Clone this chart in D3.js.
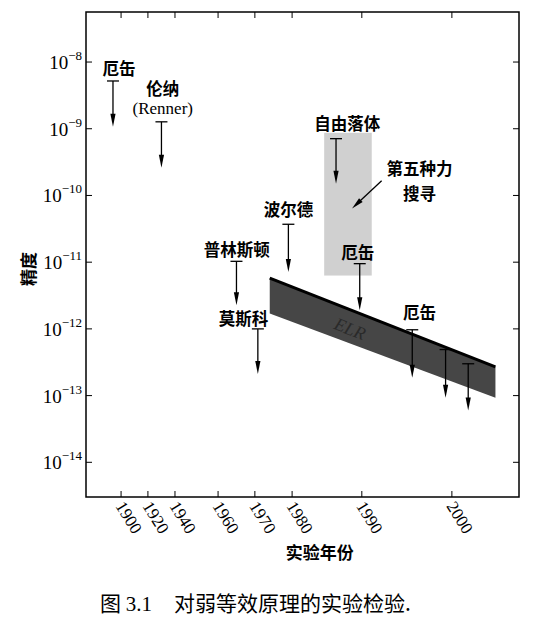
<!DOCTYPE html>
<html>
<head>
<meta charset="utf-8">
<script src="https://cdn.jsdelivr.net/npm/d3@7"></script>
<style>
  body { margin: 0; background: #fff; }
  svg { display: block; }
</style>
</head>
<body>
<div id="chart"></div>
<script>
// tick labels
let yearTicks = [1900, 1920, 1940, 1960, 1970, 1980, 1990, 2000];
let decadeTicks = [-8, -9, -10, -11, -12, -13, -14];

// upper-limit experiments (cap = bound, tip = arrow end)
let expYears = [1894, 1930, 1965, 1979, 1986.3, 1989.7, 1970.8, 1995.6, 1999.3, 2001.8];
let capValues = [5.2e-9, 1.27e-9, 1.03e-11, 3.7e-11, 7.1e-10, 9.5e-12, 1.0e-12, 9.7e-13, 4.9e-13, 3.0e-13];
let tipValues = [1.07e-9, 2.6e-10, 2.26e-12, 7.1e-12, 1.5e-10, 1.9e-12, 2.1e-13, 1.85e-13, 9.3e-14, 6.0e-14];

// text labels, anchored in data units ("\n" = second line)
let labelText = ["厄缶", "伦纳", "(Renner)", "普林斯顿", "波尔德", "自由落体", "第五种力\n搜寻", "厄缶", "莫斯科", "厄缶"];
let labelYears = [1898.5, 1931, 1931, 1965.1, 1979, 1987.9, 1996.4, 1989.4, 1966.9, 1996.4];
let labelValues = [8.1e-9, 4.1e-9, 2.07e-9, 1.6e-11, 6.3e-11, 1.23e-9, 2.55e-10, 1.4e-11, 1.48e-12, 1.78e-12];

// fifth-force search region
let fifthYears = [1984.6, 1991.1];
let fifthValues = [8.7e-10, 6.3e-12];
let fifthPointerYears = [1992.2, 1988.6];
let fifthPointerValues = [1.66e-10, 6.4e-11];

// ELR band
let bandYears = [1974, 2004.8];
let bandTop = [5.75e-12, 2.7e-13];
let bandBottom = [1.7e-12, 9.3e-14];

let margin = {top: 12, right: 36, bottom: 128, left: 86};
let width = 555 - margin.left - margin.right;
let height = 625 - margin.top - margin.bottom;

let serif = "'Liberation Serif', 'DejaVu Serif', serif";
let cjk = "'Noto Sans CJK SC', sans-serif";

let svg = d3.select("#chart")
  .append("svg")
  .attr("width", 555)
  .attr("height", 625);

let g = svg.append("g")
  .attr("transform", "translate(" + margin.left + "," + margin.top + ")");

// the time axis of the original is stretched piece by piece
let x = d3.scaleLinear()
  .domain([1874, 1900, 1920, 1940, 1960, 1970, 1980, 1990, 2000, 2007.4])
  .range([0, 0.081, 0.143, 0.2055, 0.305, 0.39, 0.476, 0.637, 0.845, 1].map(function(f) { return f * width; }));

let y = d3.scaleLog()
  .domain([Math.pow(10, -14.52), Math.pow(10, -7.25)])
  .range([height, 0]);

// fifth force shaded region
g.append("rect")
  .attr("x", x(fifthYears[0]))
  .attr("y", y(fifthValues[0]))
  .attr("width", x(fifthYears[1]) - x(fifthYears[0]))
  .attr("height", y(fifthValues[1]) - y(fifthValues[0]))
  .attr("fill", "#d0d0d0");

// ELR band
let bandPts = bandYears.map(function(d, i) { return {year: d, top: bandTop[i], bottom: bandBottom[i]}; });
g.append("path")
  .datum(bandPts)
  .attr("d", d3.area()
    .x(function(d) { return x(d.year); })
    .y0(function(d) { return y(d.bottom); })
    .y1(function(d) { return y(d.top); }))
  .attr("fill", "#464646");
g.append("path")
  .datum(bandPts)
  .attr("d", d3.line()
    .x(function(d) { return x(d.year); })
    .y(function(d) { return y(d.top); }))
  .attr("stroke", "#000")
  .attr("stroke-width", 3)
  .attr("fill", "none");

let angle = Math.atan2(y(bandTop[1]) - y(bandTop[0]), x(bandYears[1]) - x(bandYears[0])) * 180 / Math.PI;
g.append("text")
  .attr("transform", "translate(" + x(1988.3) + "," + y(1.0e-12) + ") rotate(" + angle + ")")
  .attr("text-anchor", "middle")
  .attr("dominant-baseline", "central")
  .attr("font-family", serif)
  .attr("font-style", "italic")
  .attr("font-size", 18)
  .attr("fill", "#2a2a2a")
  .text("ELR");

// upper limit arrows
let arrows = g.append("g").selectAll("g")
  .data(expYears)
  .enter().append("g");

arrows.append("line")
  .attr("x1", function(d) { return x(d); })
  .attr("x2", function(d) { return x(d); })
  .attr("y1", function(d, i) { return y(capValues[i]); })
  .attr("y2", function(d, i) { return y(tipValues[i]) - 8; })
  .attr("stroke", "#000")
  .attr("stroke-width", 1.3);

arrows.append("line")
  .attr("x1", function(d) { return x(d) - 6; })
  .attr("x2", function(d) { return x(d) + 6; })
  .attr("y1", function(d, i) { return y(capValues[i]); })
  .attr("y2", function(d, i) { return y(capValues[i]); })
  .attr("stroke", "#000")
  .attr("stroke-width", 1.3);

arrows.append("path")
  .attr("d", function(d, i) {
    let px = x(d), py = y(tipValues[i]);
    return "M" + (px - 2.6) + "," + (py - 13) + "L" + (px + 2.6) + "," + (py - 13) + "L" + px + "," + py + "Z";
  })
  .attr("fill", "#000");

// pointer to fifth force region
let p0 = [x(fifthPointerYears[0]), y(fifthPointerValues[0])];
let p1 = [x(fifthPointerYears[1]), y(fifthPointerValues[1])];
let ang = Math.atan2(p1[1] - p0[1], p1[0] - p0[0]);
g.append("line")
  .attr("x1", p0[0]).attr("y1", p0[1])
  .attr("x2", p1[0] - 9 * Math.cos(ang)).attr("y2", p1[1] - 9 * Math.sin(ang))
  .attr("stroke", "#000")
  .attr("stroke-width", 1.3);
g.append("path")
  .attr("d", "M0,0L-12,-2.6L-12,2.6Z")
  .attr("transform", "translate(" + p1[0] + "," + p1[1] + ") rotate(" + ang * 180 / Math.PI + ")")
  .attr("fill", "#000");

// labels (multi-line ones become tspans in one text)
let labels = g.append("g").selectAll("text")
  .data(labelText)
  .enter().append("text")
  .attr("y", function(d, i) { return y(labelValues[i]); })
  .attr("text-anchor", "middle")
  .attr("dominant-baseline", "central")
  .attr("font-family", function(d) { return d.charAt(0) === "(" ? serif : cjk; })
  .attr("font-weight", function(d) { return d.charAt(0) === "(" ? "normal" : "bold"; })
  .attr("font-size", function(d) { return d.charAt(0) === "(" ? 17 : 16.5; });

labels.each(function(d, i) {
  let lx = x(labelYears[i]);
  d3.select(this).selectAll("tspan")
    .data(d.split("\n"))
    .enter().append("tspan")
    .attr("x", lx)
    .attr("dy", function(t, j) { return j === 0 ? 0 : 24.5; })
    .text(function(t) { return t; });
});

// frame
g.append("rect")
  .attr("width", width)
  .attr("height", height)
  .attr("fill", "none")
  .attr("stroke", "#000")
  .attr("stroke-width", 1.5);

// inner ticks on all four sides
let tickLen = 6;
g.append("g").selectAll("line")
  .data(yearTicks)
  .enter().append("line")
  .attr("x1", function(d) { return x(d); })
  .attr("x2", function(d) { return x(d); })
  .attr("y1", height)
  .attr("y2", height - tickLen)
  .attr("stroke", "#000");
g.append("g").selectAll("line")
  .data(yearTicks)
  .enter().append("line")
  .attr("x1", function(d) { return x(d); })
  .attr("x2", function(d) { return x(d); })
  .attr("y1", 0)
  .attr("y2", tickLen)
  .attr("stroke", "#000");
g.append("g").selectAll("line")
  .data(decadeTicks)
  .enter().append("line")
  .attr("x1", 0)
  .attr("x2", tickLen)
  .attr("y1", function(d) { return y(Math.pow(10, d)); })
  .attr("y2", function(d) { return y(Math.pow(10, d)); })
  .attr("stroke", "#000");
g.append("g").selectAll("line")
  .data(decadeTicks)
  .enter().append("line")
  .attr("x1", width)
  .attr("x2", width - tickLen)
  .attr("y1", function(d) { return y(Math.pow(10, d)); })
  .attr("y2", function(d) { return y(Math.pow(10, d)); })
  .attr("stroke", "#000");

// y tick labels 10^n
let yLabels = g.append("g").selectAll("text")
  .data(decadeTicks)
  .enter().append("text")
  .attr("x", -4)
  .attr("y", function(d) { return y(Math.pow(10, d)) + 7; })
  .attr("text-anchor", "end")
  .attr("font-family", serif)
  .attr("font-size", 19);
yLabels.append("tspan").text("10");
yLabels.append("tspan")
  .attr("dy", -9)
  .attr("font-size", 13)
  .text(function(d) { return "\u2212" + (-d); });

// x tick labels, rotated
g.append("g").selectAll("text")
  .data(yearTicks)
  .enter().append("text")
  .attr("transform", function(d) { return "translate(" + (x(d) - 6) + "," + (height + 9) + ") rotate(58)"; })
  .attr("text-anchor", "start")
  .attr("font-family", serif)
  .attr("font-size", 17)
  .text(function(d) { return d; });

// axis titles
g.append("text")
  .attr("transform", "translate(" + (-59) + "," + (height * 0.53) + ") rotate(-90)")
  .attr("text-anchor", "middle")
  .attr("dominant-baseline", "central")
  .attr("font-family", cjk)
  .attr("font-weight", "bold")
  .attr("font-size", 17)
  .text("精度");

g.append("text")
  .attr("x", width * 0.54)
  .attr("y", height + 62)
  .attr("text-anchor", "middle")
  .attr("font-family", cjk)
  .attr("font-weight", "bold")
  .attr("font-size", 17)
  .text("实验年份");

// caption
let cap = svg.append("text")
  .attr("x", 100)
  .attr("y", 611)
  .attr("font-size", 21);
cap.append("tspan").attr("font-family", cjk).text("图 ");
cap.append("tspan").attr("font-family", serif).text("3.1");
cap.append("tspan").attr("font-family", cjk).attr("dx", 22).text("对弱等效原理的实验检验.");
</script>
</body>
</html>
